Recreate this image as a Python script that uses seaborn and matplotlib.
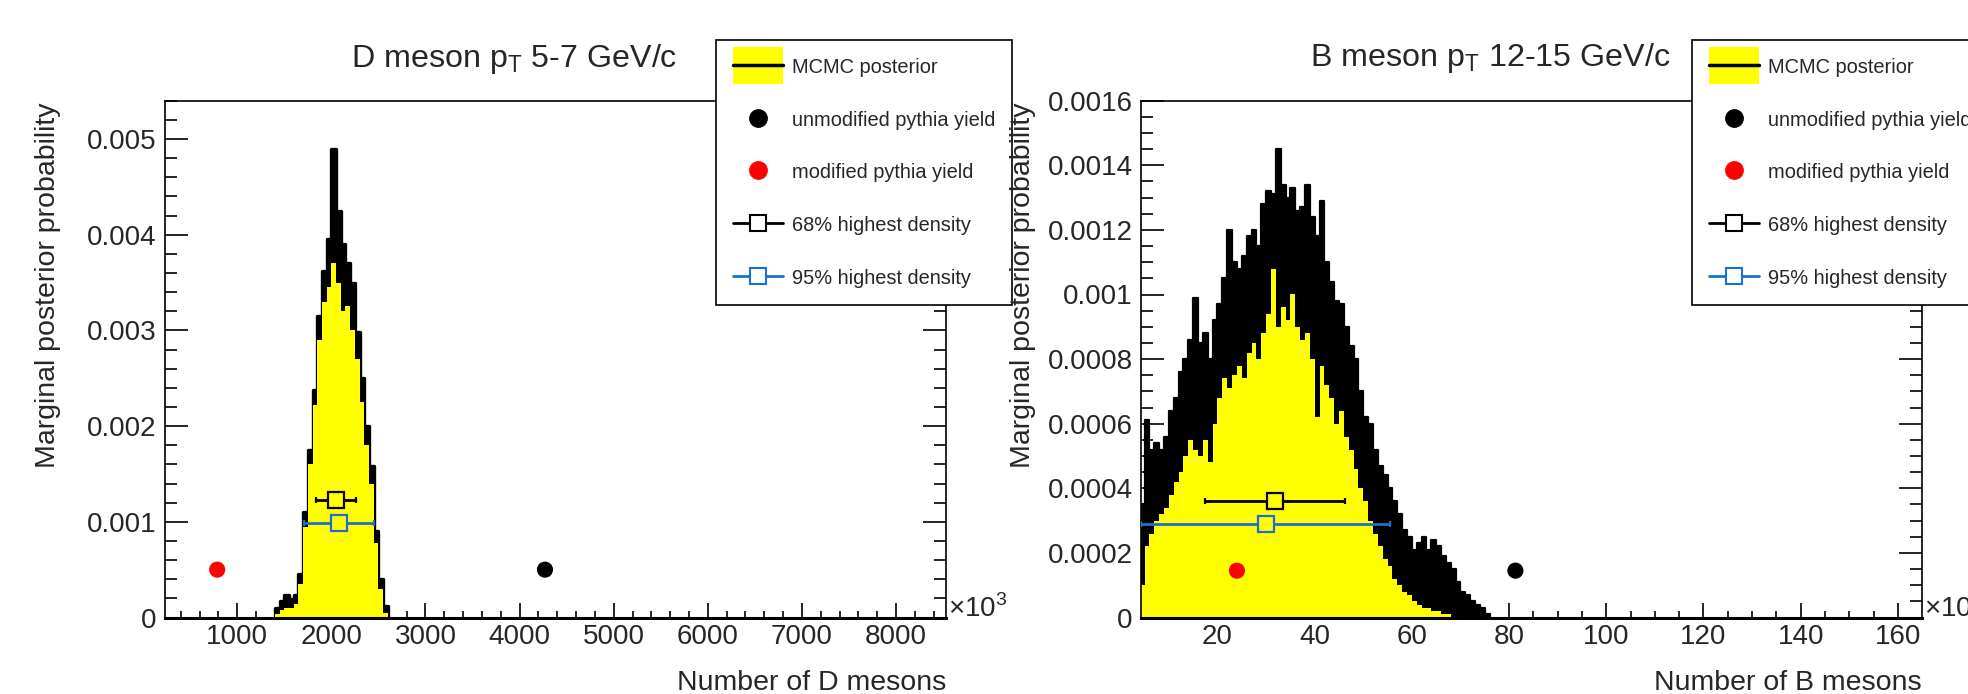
import numpy as np
import pandas as pd
import matplotlib
matplotlib.use("Agg")
import matplotlib.pyplot as plt
import seaborn as sns
from matplotlib.patches import Patch, Rectangle
from matplotlib.lines import Line2D
from matplotlib.legend_handler import HandlerPatch
from matplotlib.ticker import MultipleLocator, FuncFormatter

# ---------------- data ----------------
# D meson panel: histogram bins of width 50 from 1400 to 2600
d_edges = np.arange(1400, 2601, 50)
d_upper = [0.00010, 0.00017, 0.00024, 0.00019, 0.00024, 0.00045, 0.00110, 0.00175,
           0.00238, 0.00315, 0.00362, 0.00395, 0.00490, 0.00425, 0.00390, 0.00370,
           0.00350, 0.00298, 0.00250, 0.00200, 0.00158, 0.00090, 0.00040, 0.00012]
d_lower = [0.00004, 0.00008, 0.00010, 0.00010, 0.00014, 0.00035, 0.00095, 0.00160,
           0.00222, 0.00290, 0.00330, 0.00345, 0.00370, 0.00350, 0.00320, 0.00325,
           0.00300, 0.00270, 0.00225, 0.00180, 0.00140, 0.00078, 0.00030, 0.00005]
d_unmod_x, d_unmod_y = [4270], [0.0005]
d_mod_x, d_mod_y = [787], [0.0005]
d_hdi68 = dict(center=2054, y=0.00123, lo=1838, hi=2266)
d_hdi95 = dict(center=2076, y=0.000987, lo=1708, hi=2450)

# B meson panel: histogram bins of width 1 from 4 to 76
b_edges = np.arange(4, 77, 1)
b_upper = [0.00035, 0.00061, 0.00052, 0.00054, 0.00052, 0.00056, 0.00064, 0.00068,
           0.00076, 0.00080, 0.00086, 0.00099, 0.00085, 0.00088, 0.00080, 0.00092,
           0.00097, 0.00105, 0.00120, 0.00110, 0.00108, 0.00112, 0.00118, 0.00120,
           0.00115, 0.00128, 0.00132, 0.00131, 0.00145, 0.00134, 0.00130, 0.00133,
           0.00126, 0.00127, 0.00134, 0.00124, 0.00118, 0.00129, 0.00110, 0.00104,
           0.00098, 0.00097, 0.00090, 0.00084, 0.00080, 0.00070, 0.00062, 0.00060,
           0.00052, 0.00047, 0.00044, 0.00040, 0.00036, 0.00032, 0.00027, 0.00025,
           0.00021, 0.00023, 0.00025, 0.00021, 0.00024, 0.00022, 0.00019, 0.00017,
           0.00015, 0.00011, 0.00008, 0.00007, 0.00005, 0.00004, 0.00003, 0.00001]
b_lower = [0.00010, 0.00022, 0.00026, 0.00030, 0.00032, 0.00034, 0.00038, 0.00042,
           0.00045, 0.00050, 0.00055, 0.00052, 0.00050, 0.00055, 0.00048, 0.00060,
           0.00068, 0.00074, 0.00071, 0.00075, 0.00078, 0.00074, 0.00082, 0.00085,
           0.00080, 0.00088, 0.00094, 0.00108, 0.00090, 0.00096, 0.00092, 0.00100,
           0.00090, 0.00086, 0.00088, 0.00080, 0.00062, 0.00078, 0.00072, 0.00068,
           0.00060, 0.00064, 0.00056, 0.00052, 0.00046, 0.00040, 0.00036, 0.00030,
           0.00026, 0.00022, 0.00018, 0.00016, 0.00012, 0.00010, 0.00008, 0.00007,
           0.00005, 0.00004, 0.00003, 0.00003, 0.00002, 0.00002, 0.00001, 0.00001,
           0.0, 0.0, 0.0, 0.0, 0.0, 0.0, 0.0, 0.0]
b_unmod_x, b_unmod_y = [81.3], [0.000145]
b_mod_x, b_mod_y = [24.0], [0.000145]
b_hdi68 = dict(center=31.8, y=0.000362, lo=17.4, hi=46.2)
b_hdi95 = dict(center=30.0, y=0.000291, lo=4.3, hi=55.4)

legend_labels = ["MCMC posterior", "unmodified pythia yield", "modified pythia yield",
                 "68% highest density", "95% highest density"]

# ---------------- style ----------------
sns.set_style("white")
plt.rcParams["font.family"] = ["Liberation Sans", "DejaVu Sans"]
plt.rcParams["mathtext.fontset"] = "custom"
plt.rcParams["mathtext.rm"] = "Liberation Sans"

BLUE = "#1e6ed2"
W, H = 1968, 694
fig = plt.figure(figsize=(W / 100, H / 100), dpi=100)


def fx(px):
    return px / W


def fy(py):
    return 1 - py / H


def make_axes(left, right, top=100.7, bottom=617.5):
    return fig.add_axes([fx(left), fy(bottom), fx(right - left), (bottom - top) / H])


def draw_panel(ax, edges, upper, lower, unmod, mod, hdi68, hdi95, lw):
    centers = (edges[:-1] + edges[1:]) / 2.0
    df = pd.DataFrame({"x": centers, "upper": upper, "lower": lower})
    bin_list = [float(e) for e in edges]
    sns.histplot(data=df, x="x", weights="upper", bins=bin_list, element="step",
                 fill=True, color="black", alpha=1, linewidth=lw, ax=ax, zorder=1)
    sns.histplot(data=df, x="x", weights="lower", bins=bin_list, element="step",
                 fill=True, color="yellow", alpha=1, linewidth=0, ax=ax, zorder=1.1)
    sns.scatterplot(x=unmod[0], y=unmod[1], color="black", s=135, edgecolor="none",
                    ax=ax, zorder=4)
    sns.scatterplot(x=mod[0], y=mod[1], color="red", s=135, edgecolor="none",
                    ax=ax, zorder=4)
    for h, col in ((hdi68, "black"), (hdi95, BLUE)):
        ax.errorbar([h["center"]], [h["y"]],
                    xerr=[[h["center"] - h["lo"]], [h["hi"] - h["center"]]],
                    fmt="s", ms=12, mfc="yellow", mec=col, mew=1.6, color=col,
                    elinewidth=2, capsize=2.5, capthick=2, zorder=5)
    ax.set_xlabel("")
    ax.set_ylabel("")


def style_axes(ax, xlim, ylim, xmaj, xmin, ymaj, ymin):
    ax.set_xlim(*xlim)
    ax.set_ylim(*ylim)
    ax.xaxis.set_major_locator(MultipleLocator(xmaj))
    ax.xaxis.set_minor_locator(MultipleLocator(xmin))
    ax.yaxis.set_major_locator(MultipleLocator(ymaj))
    ax.yaxis.set_minor_locator(MultipleLocator(ymin))
    fmt = FuncFormatter(lambda v, p: f"{v:g}")
    ax.xaxis.set_major_formatter(fmt)
    ax.yaxis.set_major_formatter(fmt)
    ax.tick_params(axis="both", which="both", direction="in", top=False, right=True,
                   bottom=True, left=True, width=1.2, color="black")
    ax.tick_params(axis="y", which="major", length=16.5, labelsize=20, pad=6)
    ax.tick_params(axis="y", which="minor", length=8.3)
    ax.tick_params(axis="x", which="major", length=10.8, labelsize=20, pad=5)
    ax.tick_params(axis="x", which="minor", length=5.4)
    for s in ax.spines.values():
        s.set_color("black")
        s.set_linewidth(1.2)
    ax.spines["bottom"].set_linewidth(2.2)
    ax.set_facecolor("white")


def tall_patch(legend, orig_handle, xdescent, ydescent, width, height, fontsize):
    cy = -ydescent + height / 2.0
    h = 1.85 * fontsize
    return Rectangle((-xdescent, cy - h / 2.0), width, h)


def add_legend(ax, x0):
    handles = [
        (Patch(facecolor="yellow", edgecolor="none"), Line2D([], [], color="black", lw=2.5)),
        Line2D([], [], ls="none", marker="o", color="black", ms=12.5),
        Line2D([], [], ls="none", marker="o", color="red", ms=12.5),
        Line2D([], [], color="black", lw=2, marker="s", mfc="white", mec="black", ms=12, mew=1.5),
        Line2D([], [], color=BLUE, lw=2, marker="s", mfc="white", mec=BLUE, ms=12, mew=1.5),
    ]
    leg = ax.legend(handles, legend_labels, loc="upper left",
                    bbox_to_anchor=(fx(x0), fy(40)), bbox_transform=fig.transFigure,
                    borderaxespad=0, prop={"size": 14.4}, handlelength=2.5,
                    handleheight=1.0, labelspacing=1.65, borderpad=0.85,
                    handletextpad=0.45, frameon=True, fancybox=False, framealpha=1,
                    edgecolor="black", numpoints=1,
                    handler_map={Patch: HandlerPatch(patch_func=tall_patch)})
    leg.get_frame().set_linewidth(1.2)
    leg.set_zorder(10)
    return leg


# ---------------- left panel ----------------
axL = make_axes(164.5, 946)
draw_panel(axL, d_edges, d_upper, d_lower, (d_unmod_x, d_unmod_y),
           (d_mod_x, d_mod_y), d_hdi68, d_hdi95, lw=2.4)
style_axes(axL, (227, 8531), (0, 0.0054), 1000, 200, 0.001, 0.0002)
add_legend(axL, 716)

# ---------------- right panel ----------------
axR = make_axes(1141, 1921.7)
draw_panel(axR, b_edges, b_upper, b_lower, (b_unmod_x, b_unmod_y),
           (b_mod_x, b_mod_y), b_hdi68, b_hdi95, lw=1.6)
style_axes(axR, (4.26, 164.9), (0, 0.0016), 20, 5, 0.0002, 0.00005)
add_legend(axR, 1692)

# ---------------- texts ----------------
fig.text(fx(514), fy(67), r"D meson p$_\mathregular{T}$ 5-7 GeV/c", ha="center",
         va="baseline", fontsize=23.2)
fig.text(fx(1490), fy(66), r"B meson p$_\mathregular{T}$ 12-15 GeV/c", ha="center",
         va="baseline", fontsize=23.2)
fig.text(fx(48), fy(103), "Marginal posterior probability", rotation=90,
         ha="center", va="top", fontsize=20.5)
fig.text(fx(1023), fy(103), "Marginal posterior probability", rotation=90,
         ha="center", va="top", fontsize=20.5)
fig.text(fx(946), fy(690), "Number of D mesons", ha="right", va="baseline", fontsize=20.5)
fig.text(fx(1921.7), fy(690), "Number of B mesons", ha="right", va="baseline", fontsize=20.5)
fig.text(fx(948), fy(617), r"×10$^\mathregular{3}$", ha="left", va="baseline", fontsize=20)
fig.text(fx(1924), fy(617), r"×10$^\mathregular{3}$", ha="left", va="baseline", fontsize=20)

fig.savefig("out.png", dpi=100, facecolor="white")
